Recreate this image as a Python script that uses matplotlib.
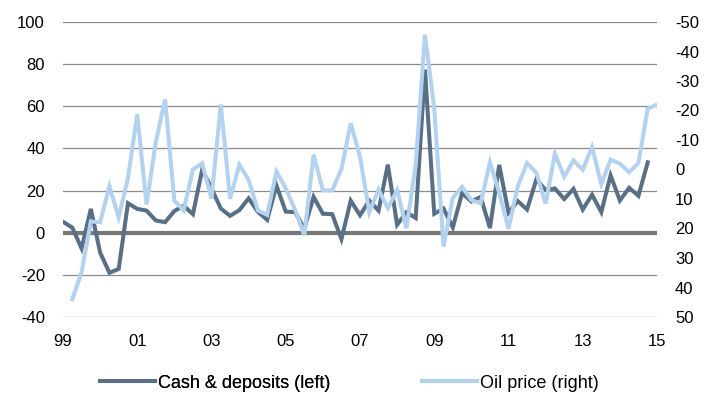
import numpy as np
import matplotlib
matplotlib.use("Agg")
import matplotlib.pyplot as plt

plt.rcParams['font.family'] = ['Liberation Sans', 'DejaVu Sans']
plt.rcParams['axes.unicode_minus'] = False

# quarterly observations starting 1999 Q1
start_year = 1999
cash_deposits = [5.2, 2.4, -7.4, 11.3, -9.4, -19.0, -17.2, 14.0, 11.3, 10.5, 5.8, 5.0,
                 10.3, 12.8, 8.8, 30.0, 21.0, 11.5, 8.0, 10.7, 16.3, 9.9, 6.1, 22.4,
                 10.0, 9.8, 2.0, 17.0, 9.0, 8.8, -3.0, 15.2, 8.3, 15.2, 10.5, 32.3,
                 3.8, 9.7, 7.0, 77.4, 9.0, 11.5, 2.5, 18.8, 14.8, 17.0, 2.2, 32.2,
                 9.5, 15.0, 11.0, 25.3, 20.3, 21.0, 16.0, 20.8, 11.0, 18.0, 9.8, 27.2,
                 15.3, 21.3, 17.5, 33.4]
oil_price = [np.nan, 44.0, 34.9, 17.6, 17.9, 5.7, 16.2, 2.9, -18.7, 11.9, -9.3, -23.8,
             10.6, 13.8, 0.0, -2.1, 9.9, -22.0, 9.9, -1.6, 3.5, 13.9, 15.4, 0.7,
             6.4, 13.6, 22.3, -5.0, 7.1, 7.1, -0.1, -15.7, -4.3, 14.5, 6.8, 13.1,
             7.0, 19.9, -1.4, -45.7, -20.7, 26.1, 9.6, 5.9, 10.4, 11.4, -2.4, 7.9,
             20.1, 5.7, -2.2, 1.1, 11.6, -5.4, 2.5, -3.1, 0.1, -7.6, 4.9, -3.3,
             -2.0, 0.9, -2.2, -20.6, -22.0]
left_ticks = [-40, -20, 0, 20, 40, 60, 80, 100]
right_ticks = [-50, -40, -30, -20, -10, 0, 10, 20, 30, 40, 50]
x_tick_years = [1999, 2001, 2003, 2005, 2007, 2009, 2011, 2013, 2015]
x_tick_labels = ["99", "01", "03", "05", "07", "09", "11", "13", "15"]
labels = ["Cash & deposits (left)", "Oil price (right)"]

dark = "#586F86"
light = "#B3D2F0"
grid_c = "#8C8C8C"

x_cash = start_year + np.arange(len(cash_deposits)) / 4.0
x_oil = start_year + np.arange(len(oil_price)) / 4.0

fig = plt.figure(figsize=(7.16, 4.07), dpi=100)
ax = fig.add_axes([63/716, 1-317/407, 594/716, 295/407])
ax2 = ax.twinx()

for s in list(ax.spines.values()) + list(ax2.spines.values()):
    s.set_visible(False)

ax.set_ylim(-40, 100)
ax.set_yticks(left_ticks)
ax.set_xlim(1999, 2015)
ax.set_xticks(x_tick_years)
ax.set_xticklabels(x_tick_labels)
for t in left_ticks:
    if t != 0:
        ax.axhline(t, color=grid_c, lw=0.9, zorder=1)
ax.axhline(0, color="#777777", lw=3.0, zorder=2)

l1, = ax.plot(x_cash, cash_deposits, color=dark, lw=2.9, zorder=3, solid_joinstyle='miter')
ax2.set_ylim(50, -50)
ax2.set_yticks(right_ticks)
l2, = ax2.plot(x_oil, oil_price, color=light, lw=2.9, zorder=3, solid_joinstyle='miter')

ax.tick_params(axis='both', length=0, labelsize=12, colors='#000000')
ax.tick_params(axis='y', pad=13)
ax.tick_params(axis='x', pad=12)
ax2.tick_params(axis='y', length=0, labelsize=12, pad=13)

leg_kw = dict(loc='center left', frameon=False, fontsize=13, handlelength=3.05,
              handletextpad=0.17, borderaxespad=0, borderpad=0)
leg1 = fig.legend([l1], [labels[0]], bbox_to_anchor=(100/716, 1-383/407), **leg_kw)
fig.add_artist(leg1)
leg2 = fig.legend([l2], [labels[1]], bbox_to_anchor=(422/716, 1-383/407), **leg_kw)

fig.savefig("out.png", dpi=100)
